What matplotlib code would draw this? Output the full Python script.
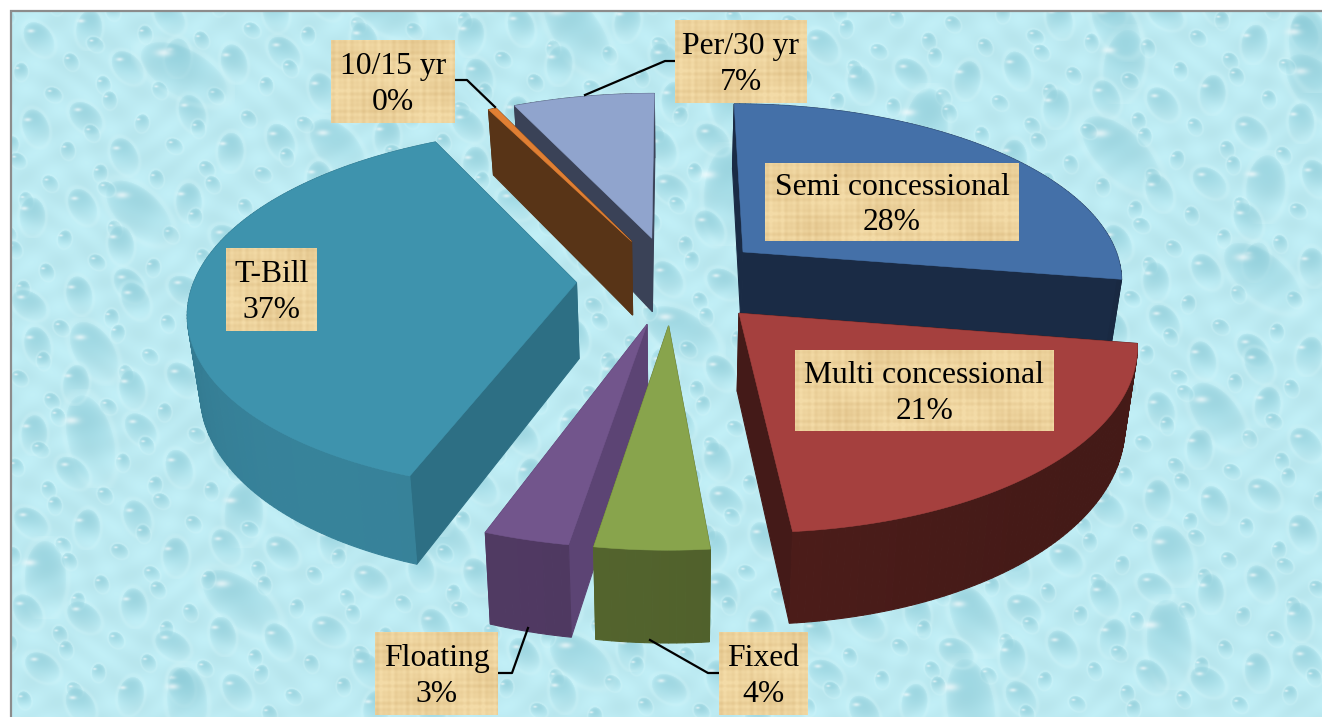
#!/usr/bin/env python3
import numpy as np
import matplotlib
matplotlib.use("Agg")
import matplotlib.pyplot as plt
from matplotlib.patches import Polygon

# values
names  = ["Semi concessional", "Multi concessional", "Fixed", "Floating", "T-Bill", "10/15 yr", "Per/30 yr"]
shares = [27.5, 21.0, 4.0, 3.0, 37.0, 0.4, 7.0]

top_colors   = ["#4470a8", "#a5403e", "#88a44c", "#72558c", "#3e93ad", "#e07f33", "#90a4cd"]
face_colors  = ["#1a2b45", "#441a18", "#5c6e30", "#5c4474", "#2d6f84", "#583417", "#3a4257"]
wall_colors  = ["#1a2b45", "#4a1c19", "#4f5f2b", "#4b365c", "#33798f", "#583417", "#3a4257"]

# box (left, right, top, bottom) for each label
label_boxes = [(765, 1019, 163, 241), (795, 1054, 350, 431), (719, 808, 632, 715), (375, 498, 632, 715),
               (226, 317, 248, 331), (331, 455, 40, 123), (675, 807, 20, 103)]
leaders = {
    "Fixed": [(650, 640), (708, 673), (719, 673)],
    "Floating": [(528, 628), (512, 673), (498, 673)],
    "10/15 yr": [(495, 107), (467, 80), (455, 80)],
    "Per/30 yr": [(585, 95), (665, 61), (675, 61)],
}

W, H = 1322, 717

# view of the pie, fitted by eye
cx, cy = 672.0, 280.0
R, K = 382.0, 177.0
PERSP = 0.145
DEPTH = 76.0
SHRINK = 0.027
EXPLODE = 0.25


def project(u, v, z=0.0):
    w = 1.0 / (1.0 + PERSP * v)
    x = cx + R * u * w * (1.0 - SHRINK * z)
    y = cy - K * v * w + DEPTH * z * w
    return x, y


def water_texture():
    img = np.ones((H, W, 3)) * np.array([0.74, 0.92, 0.95])
    yy, xx = np.mgrid[0:H, 0:W]
    # soft light veins between the drops
    veins = np.sin(xx / 9.0 + np.sin(yy / 23.0) * 2) * np.sin(yy / 7.0 + np.sin(xx / 29.0) * 2)
    img += (0.018 * veins)[..., None]
    dark = np.array([0.54, 0.79, 0.84])
    for i in range(1, 800):
        px = (i * 0.7548776662) % 1 * W
        py = (i * 0.5698402910) % 1 * H
        t = (i * 0.6180339887) % 1
        if t < 0.06:
            a, b = 30 + 20 * t / 0.06, 19 + 5 * t / 0.06
        elif t < 0.38:
            a, b = 19, 13
        else:
            a, b = 9, 7
        ang = 0.5 + 1.3 * ((i * 0.4142135) % 1)
        x0, x1 = int(max(px - a - 4, 0)), int(min(px + a + 4, W))
        y0, y1 = int(max(py - a - 4, 0)), int(min(py + a + 4, H))
        if x1 <= x0 or y1 <= y0:
            continue
        sx, sy = xx[y0:y1, x0:x1] - px, yy[y0:y1, x0:x1] - py
        ex = (sx * np.cos(ang) + sy * np.sin(ang)) / a
        ey = (-sx * np.sin(ang) + sy * np.cos(ang)) / b
        r2 = ex ** 2 + ey ** 2
        ny = sy / a
        amount = np.clip(1 - r2, 0, 1) ** 0.5 * np.clip(0.55 - 0.65 * ny, 0, 1) * 0.8
        patch = img[y0:y1, x0:x1]
        patch[:] = patch * (1 - amount[..., None]) + dark * amount[..., None]
        # rim light below the drop and small highlight in the upper left
        rim = np.exp(-((np.sqrt(r2) - 1.1) / 0.12) ** 2) * 0.22
        patch[:] = patch + (np.array([0.85, 0.97, 0.98]) - patch) * rim[..., None]
        hx = (sx + 0.42 * a) / (0.16 * a + 0.5)
        hy = (sy + 0.42 * a) / (0.07 * a + 0.5)
        hl = np.exp(-(hx ** 2 + hy ** 2)) * 0.6
        patch[:] = patch + (1.0 - patch) * hl[..., None]
    return np.clip(img[11:, 11:], 0, 1)


def paper_texture(w, h):
    yy, xx = np.mgrid[0:h, 0:w]
    base = np.array([0.955, 0.86, 0.655])
    dark = np.array([0.85, 0.72, 0.49])
    n = (np.sin(xx * 0.83) * np.sin(xx * 0.21 + 1) + np.sin(yy * 0.91) * np.sin(yy * 0.17 + 2)) / 2
    n = n + 0.6 * np.sin(xx / 19.0 + yy / 31.0) * np.sin(yy / 11.0 - xx / 41.0)
    amount = np.clip(0.25 + 0.32 * n, 0, 1)[..., None]
    return base * (1 - amount) + dark * amount


fig = plt.figure(figsize=(W / 100, H / 100), dpi=100)
ax = fig.add_axes([0, 0, 1, 1])
ax.imshow(water_texture(), extent=(11, W, H, 11), zorder=0, interpolation="bilinear", aspect="auto")

# frame
ax.plot([10.5, 10.5, W], [H, 10.5, 10.5], color="#8c8c8c", lw=1.6, zorder=1, solid_joinstyle="miter")

# cumulative angles, clockwise from twelve o'clock
total = sum(shares)
edges = np.cumsum([0.0] + shares) / total * 2 * np.pi

# back slices first, front ones last
order = [6, 5, 0, 4, 1, 3, 2]
zorder = 2
for i in order:
    a0, a1 = edges[i], edges[i + 1]
    mid = (a0 + a1) / 2
    ou, ov = EXPLODE * np.sin(mid), EXPLODE * np.cos(mid)
    n = max(int((a1 - a0) * 60), 3)
    th = np.linspace(a0, a1, n)
    us = ou + np.sin(th)
    vs = ov + np.cos(th)

    faces = []
    for ua, va in [(us[0], vs[0]), (us[-1], vs[-1])]:
        quad = [project(ou, ov), project(ua, va), project(ua, va, 1), project(ou, ov, 1)]
        faces.append((quad, face_colors[i]))
    base = np.array(matplotlib.colors.to_rgb(wall_colors[i]))
    for k in range(n - 1):
        quad = [project(us[k], vs[k]), project(us[k + 1], vs[k + 1]),
                project(us[k + 1], vs[k + 1], 1), project(us[k], vs[k], 1)]
        tm = (th[k] + th[k + 1]) / 2
        shade = 1.0 + 0.08 * np.sin(tm * 2.0 + 0.4)
        faces.append((quad, tuple(np.clip(base * shade, 0, 1))))
    faces.sort(key=lambda f: np.mean([p[1] for p in f[0]]))
    for quad, col in faces:
        ax.add_patch(Polygon(quad, closed=True, facecolor=col, edgecolor=col, lw=0.8, zorder=zorder))

    top = [project(ou, ov)] + [project(u, v) for u, v in zip(us, vs)]
    ax.add_patch(Polygon(top, closed=True, facecolor=top_colors[i], edgecolor=top_colors[i], lw=0.4, zorder=zorder))
    zorder += 1

# leader lines
for name, pts in leaders.items():
    ax.plot([p[0] for p in pts], [p[1] for p in pts], color="black", lw=1.6, zorder=20)

# labels on paper boxes
for name, share, box in zip(names, shares, label_boxes):
    x0, x1, y0, y1 = box
    ax.imshow(paper_texture(x1 - x0, y1 - y0), extent=(x0, x1, y1, y0), zorder=21, aspect="auto")
    ax.text((x0 + x1) / 2, (y0 + y1) / 2 + 3, f"{name}\n{round(share)}%", ha="center", va="center",
            fontsize=22.8, family="Liberation Serif", color="black", linespacing=1.28, zorder=22)

ax.set_xlim(0, W)
ax.set_ylim(H, 0)
ax.axis("off")
fig.savefig("out.png", dpi=100, facecolor="white")
